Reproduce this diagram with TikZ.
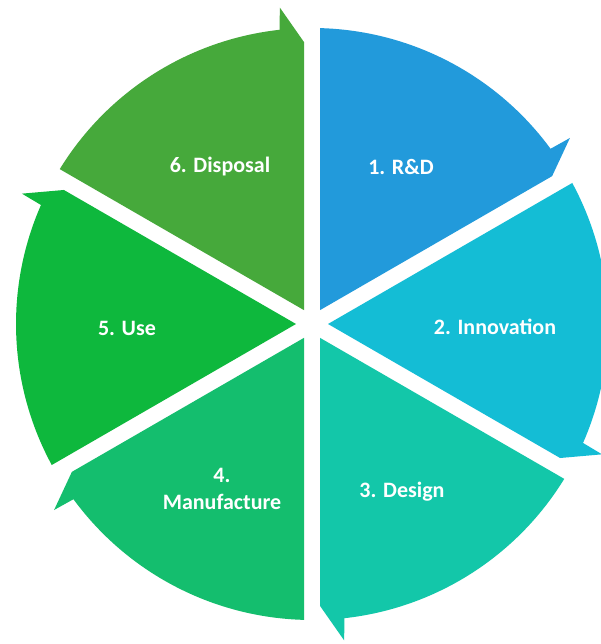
\documentclass[tikz,border=0pt]{standalone}
\usepackage{fontspec}
\setmainfont{Carlito}
\definecolor{c1}{HTML}{229ADB}
\definecolor{c2}{HTML}{14BDD5}
\definecolor{c3}{HTML}{13C7A9}
\definecolor{c4}{HTML}{14BE6E}
\definecolor{c5}{HTML}{0EB83D}
\definecolor{c6}{HTML}{46A93B}
\begin{document}
\begin{tikzpicture}[x=1pt,y=1pt,
  seglabel/.style={text=white,font=\bfseries\fontsize{22}{27}\selectfont,align=center,inner sep=0pt}]
\useasboundingbox (0,0) rectangle (601,644);
\clip (0,0) rectangle (601,644);
\fill[white] (0,0) rectangle (601,644);
\coordinate (C) at (312,320);
\foreach \s/\col in {90/c1,30/c2,-30/c3,-90/c4,-150/c5,150/c6}{
  \pgfmathsetmacro\e{\s-60}
  \fill[\col, shift={(C)}] (\s-30:16pt) -- (\s-1.549:296pt)
    arc[start angle=\s-1.549, end angle=\e+6.3, radius=296pt]
    -- (\e+5.8:318pt) -- (\e+1.625:282pt) -- cycle;
}
\node[seglabel] (l1) at (401,477) {1. R\&D};
\node[seglabel] (l2) at (495,317) {2. Innovation};
\node[seglabel] (l3) at (402,152) {3. Design};
\node[seglabel] (l4) at (222,155) {4.\\Manufacture};
\node[seglabel] (l5) at (127,316) {5. Use};
\node[seglabel] (l6) at (220,477) {6. Disposal};
\end{tikzpicture}
\end{document}
